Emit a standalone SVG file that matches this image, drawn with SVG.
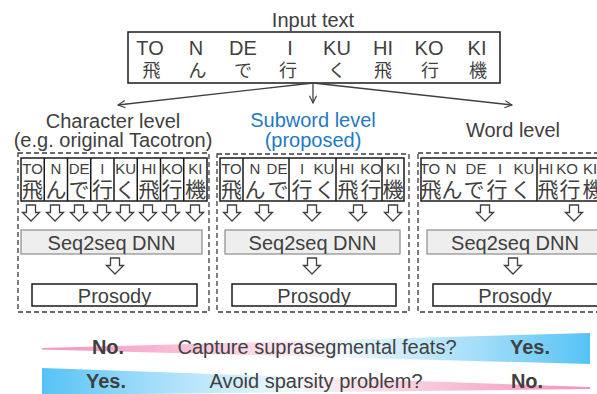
<svg xmlns="http://www.w3.org/2000/svg" width="597" height="394" viewBox="0 0 597 394">
  <style>
    text { font-family: "Liberation Sans", Arial, "Noto Sans CJK JP", sans-serif; fill: #404040; }
    .lg { font-size: 20px; text-anchor: middle; }
    .rm { font-size: 20px; text-anchor: middle; }
    .sm { font-size: 15px; text-anchor: middle; }
    .jp { font-family: "Noto Sans CJK JP", "Noto Sans CJK SC", sans-serif; text-anchor: middle; }
    .jin { font-size: 18px; }
    .jpn { font-size: 21px; }
    .b { font-weight: bold; }
    .blue { fill: #1f7ac4; }
    .box { fill: #ffffff; stroke: #1a1a1a; stroke-width: 1.5; }
    .cell { fill: none; stroke: #1a1a1a; stroke-width: 1.5; }
    .dnn { fill: #eeeeee; stroke: #8c8c8c; stroke-width: 1.2; }
    .dash { fill: none; stroke: #3a3a3a; stroke-width: 1.3; stroke-dasharray: 5 3; }
    .conn { fill: none; stroke: #404040; stroke-width: 1.3; }
    .hol { fill: #ffffff; stroke: #404040; stroke-width: 1.3; stroke-linejoin: miter; }
  </style>
  <defs>
    <marker id="open" viewBox="0 0 10 10" refX="9" refY="5" markerWidth="9" markerHeight="9" markerUnits="userSpaceOnUse" orient="auto">
      <path d="M1,1 L9,5 L1,9" fill="none" stroke="#404040" stroke-width="1.3"/>
    </marker>
    <!-- hollow block arrow pointing down, top centre at origin -->
    <path id="dn" class="hol" d="M-4.5,0 H4.5 V7.5 H8.5 L0,16 L-8.5,7.5 H-4.5 Z"/>
    <linearGradient id="pinkToBlue" x1="42" y1="0" x2="590" y2="0" gradientUnits="userSpaceOnUse">
      <stop offset="0" stop-color="#f293bf"/>
      <stop offset="0.2" stop-color="#f7b4d2"/>
      <stop offset="0.45" stop-color="#fce6f0"/>
      <stop offset="0.55" stop-color="#eef8fe"/>
      <stop offset="0.8" stop-color="#a2ddf9"/>
      <stop offset="1" stop-color="#55c3f5"/>
    </linearGradient>
    <linearGradient id="blueToPink" x1="42" y1="0" x2="590" y2="0" gradientUnits="userSpaceOnUse">
      <stop offset="0" stop-color="#55c3f5"/>
      <stop offset="0.2" stop-color="#a2ddf9"/>
      <stop offset="0.45" stop-color="#eef8fe"/>
      <stop offset="0.55" stop-color="#fce6f0"/>
      <stop offset="0.8" stop-color="#f7b4d2"/>
      <stop offset="1" stop-color="#f293bf"/>
    </linearGradient>
  </defs>

  <!-- input text -->
  <g id="input">
    <text class="lg" x="313" y="27">Input text</text>
    <rect class="box" x="128" y="32" width="372" height="51"/>
    <text class="rm" x="150" y="55">TO</text>
    <text class="rm" x="196" y="55">N</text>
    <text class="rm" x="243" y="55">DE</text>
    <text class="rm" x="290" y="55">I</text>
    <text class="rm" x="337" y="55">KU</text>
    <text class="rm" x="383" y="55">HI</text>
    <text class="rm" x="429" y="55">KO</text>
    <text class="rm" x="477" y="55">KI</text>
    <text class="jp jin" x="151.5" y="77">飛</text>
    <text class="jp jin" x="197.5" y="77">ん</text>
    <text class="jp jin" x="243" y="77">で</text>
    <text class="jp jin" x="288" y="77">行</text>
    <text class="jp jin" x="337" y="77">く</text>
    <text class="jp jin" x="383" y="77">飛</text>
    <text class="jp jin" x="430" y="77">行</text>
    <text class="jp jin" x="478" y="77">機</text>
  </g>

  <!-- connectors from the input to the three levels -->
  <g id="connectors">
    <line class="conn" x1="313" y1="83" x2="118" y2="105" marker-end="url(#open)"/>
    <line class="conn" x1="313" y1="83" x2="313" y2="103" marker-end="url(#open)"/>
    <line class="conn" x1="313" y1="83" x2="512" y2="105" marker-end="url(#open)"/>
  </g>

  <!-- character level -->
  <g id="character-level">
    <text class="lg" x="113" y="128">Character level</text>
    <text class="lg" x="113" y="147">(e.g. original Tacotron)</text>
    <rect class="dash" x="18" y="153" width="191" height="159"/>
    <rect class="cell" x="21" y="158" width="186" height="43"/>
    <path class="cell" d="M44.25,158 V201 M67.5,158 V201 M90.75,158 V201 M114,158 V201 M137.25,158 V201 M160.5,158 V201 M183.75,158 V201"/>
    <text class="sm" x="32.6" y="174">TO</text>
    <text class="sm" x="55.9" y="174">N</text>
    <text class="sm" x="79.1" y="174">DE</text>
    <text class="sm" x="102.4" y="174">I</text>
    <text class="sm" x="125.6" y="174">KU</text>
    <text class="sm" x="148.9" y="174">HI</text>
    <text class="sm" x="172.1" y="174">KO</text>
    <text class="sm" x="195.4" y="174">KI</text>
    <text class="jp jpn" x="32.6" y="197">飛</text>
    <text class="jp jpn" x="55.9" y="197">ん</text>
    <text class="jp jpn" x="79.1" y="197">で</text>
    <text class="jp jpn" x="102.4" y="197">行</text>
    <text class="jp jpn" x="125.6" y="197">く</text>
    <text class="jp jpn" x="148.9" y="197">飛</text>
    <text class="jp jpn" x="172.1" y="197">行</text>
    <text class="jp jpn" x="195.4" y="197">機</text>
    <use href="#dn" x="31" y="205"/>
    <use href="#dn" x="55" y="205"/>
    <use href="#dn" x="79" y="205"/>
    <use href="#dn" x="102" y="205"/>
    <use href="#dn" x="125" y="205"/>
    <use href="#dn" x="148" y="205"/>
    <use href="#dn" x="171" y="205"/>
    <use href="#dn" x="195" y="205"/>
    <rect class="dnn" x="21" y="230" width="181" height="24"/>
    <text class="lg" x="111.5" y="250">Seq2seq DNN</text>
    <use href="#dn" x="115" y="258"/>
    <rect class="box" x="32" y="284" width="165" height="22"/>
    <text class="lg" x="114.5" y="303">Prosody</text>
  </g>

  <!-- subword level -->
  <g id="subword-level">
    <text class="lg blue" x="313" y="127">Subword level</text>
    <text class="lg blue" x="313" y="147">(proposed)</text>
    <rect class="dash" x="217" y="154" width="192" height="158"/>
    <rect class="cell" x="220" y="158" width="184" height="43"/>
    <path class="cell" d="M243,158 V201 M289,158 V201 M336,158 V201 M382,158 V201"/>
    <text class="sm" x="231.5" y="174">TO</text>
    <text class="sm" x="255" y="174">N</text>
    <text class="sm" x="277" y="174">DE</text>
    <text class="sm" x="302" y="174">I</text>
    <text class="sm" x="324" y="174">KU</text>
    <text class="sm" x="347" y="174">HI</text>
    <text class="sm" x="371" y="174">KO</text>
    <text class="sm" x="393" y="174">KI</text>
    <text class="jp jpn" x="231.5" y="197">飛</text>
    <text class="jp jpn" x="255" y="197">ん</text>
    <text class="jp jpn" x="278" y="197">で</text>
    <text class="jp jpn" x="302" y="197">行</text>
    <text class="jp jpn" x="325" y="197">く</text>
    <text class="jp jpn" x="348" y="197">飛</text>
    <text class="jp jpn" x="371" y="197">行</text>
    <text class="jp jpn" x="393" y="197">機</text>
    <use href="#dn" x="232" y="205"/>
    <use href="#dn" x="264" y="205"/>
    <use href="#dn" x="312" y="205"/>
    <use href="#dn" x="358" y="205"/>
    <use href="#dn" x="393" y="205"/>
    <rect class="dnn" x="225" y="230" width="175" height="24"/>
    <text class="lg" x="312.5" y="250">Seq2seq DNN</text>
    <use href="#dn" x="312" y="258"/>
    <rect class="box" x="232" y="284" width="164" height="22"/>
    <text class="lg" x="314" y="303">Prosody</text>
  </g>

  <!-- word level -->
  <g id="word-level">
    <text class="lg" x="513" y="137">Word level</text>
    <rect class="dash" x="418" y="153" width="200" height="159"/>
    <rect class="cell" x="421" y="158" width="220" height="43"/>
    <path class="cell" d="M537,158 V201"/>
    <text class="sm" x="430" y="174">TO</text>
    <text class="sm" x="451" y="174">N</text>
    <text class="sm" x="476" y="174">DE</text>
    <text class="sm" x="500" y="174">I</text>
    <text class="sm" x="524" y="174">KU</text>
    <text class="sm" x="546" y="174">HI</text>
    <text class="sm" x="567" y="174">KO</text>
    <text class="sm" x="590" y="174">KI</text>
    <text class="jp jpn" x="431" y="197">飛</text>
    <text class="jp jpn" x="452" y="197">ん</text>
    <text class="jp jpn" x="474" y="197">で</text>
    <text class="jp jpn" x="497" y="197">行</text>
    <text class="jp jpn" x="521" y="197">く</text>
    <text class="jp jpn" x="548" y="197">飛</text>
    <text class="jp jpn" x="570" y="197">行</text>
    <text class="jp jpn" x="593" y="197">機</text>
    <use href="#dn" x="485" y="205"/>
    <use href="#dn" x="574" y="205"/>
    <rect class="dnn" x="427" y="230" width="176" height="24"/>
    <text class="lg" x="515" y="250">Seq2seq DNN</text>
    <use href="#dn" x="513" y="258"/>
    <rect class="box" x="433" y="284" width="166" height="22"/>
    <text class="lg" x="515" y="303">Prosody</text>
  </g>

  <!-- trade-off bars -->
  <g id="suprasegmental">
    <polygon points="42,348 590,333 590,364 42,349.5" fill="url(#pinkToBlue)"/>
    <text class="lg b" x="108" y="354">No.</text>
    <text class="lg" x="317" y="354">Capture suprasegmental feats?</text>
    <text class="lg b" x="530" y="354">Yes.</text>
  </g>
  <g id="sparsity">
    <polygon points="42,368 590,387 590,389 42,395" fill="url(#blueToPink)"/>
    <text class="lg b" x="106" y="388">Yes.</text>
    <text class="lg" x="316" y="388">Avoid sparsity problem?</text>
    <text class="lg b" x="527" y="388">No.</text>
  </g>
</svg>
